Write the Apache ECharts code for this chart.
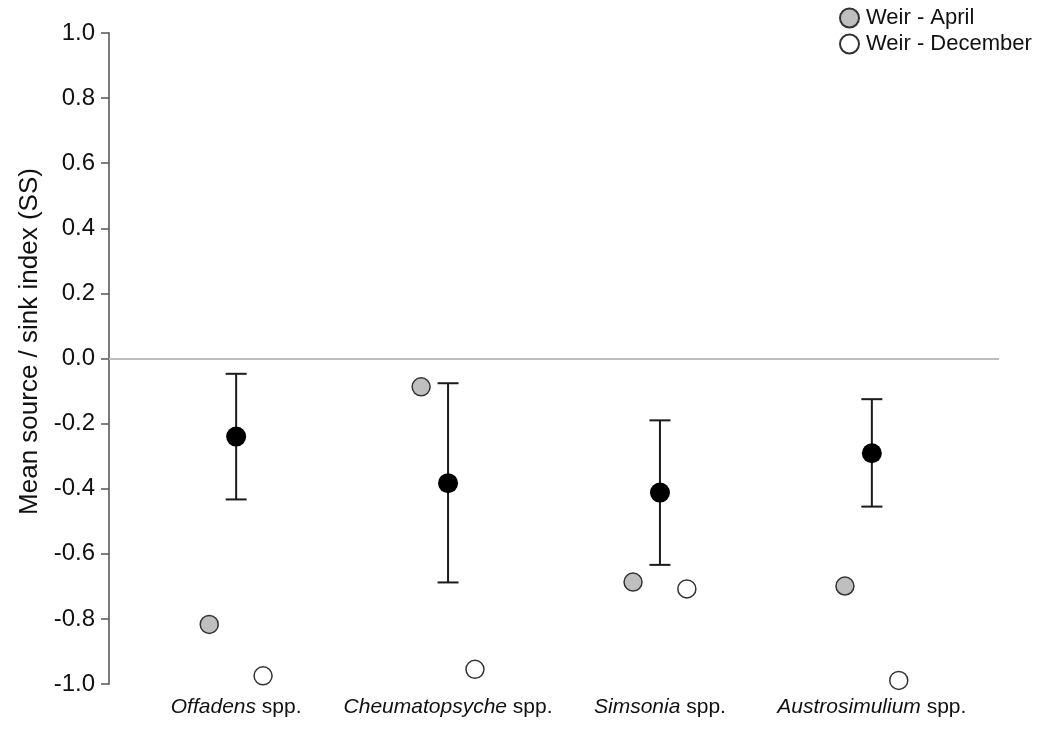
<!DOCTYPE html>
<html>
<head>
<meta charset="utf-8">
<script src="https://cdn.jsdelivr.net/npm/echarts@6/dist/echarts.min.js"></script>
<style>html,body{margin:0;padding:0;background:#fff}#c{width:1047px;height:747px}</style>
</head>
<body>
<div id="c"></div>
<script>
// ---- data ----
const genera = ['Offadens', 'Cheumatopsyche', 'Simsonia', 'Austrosimulium'];
const meanValues = [-0.240, -0.383, -0.412, -0.291];
const errUpper = [-0.047, -0.076, -0.190, -0.125];
const errLower = [-0.433, -0.688, -0.634, -0.455];
const aprilValues = [-0.817, -0.087, -0.687, -0.699];
const decemberValues = [-0.975, -0.955, -0.708, -0.989];
const aprilOffset = [-0.127, -0.127, -0.127, -0.127];
const decemberOffset = [0.127, 0.127, 0.127, 0.127];
const yTicks = [-1.0, -0.8, -0.6, -0.4, -0.2, 0.0, 0.2, 0.4, 0.6, 0.8, 1.0];

const font = 'Liberation Sans, Arial, sans-serif';
const pos = genera.map((g, i) => i + 1);

const chart = echarts.init(document.getElementById('c'), null, {renderer: 'canvas'});
const option = {
  backgroundColor: '#ffffff',
  animation: false,
  grid: {left: 109, right: 48, top: 33, bottom: 63, containLabel: false},
  legend: {
    orient: 'vertical', left: 834, top: 2, itemWidth: 19, itemHeight: 19, itemGap: 4,
    textStyle: {fontFamily: font, fontSize: 22, color: '#111', padding: [0, 0, 0, 2]},
    data: ['Weir - April', 'Weir - December']
  },
  xAxis: {
    type: 'value', min: 0.4, max: 4.6,
    axisLine: {show: false}, axisTick: {show: false}, splitLine: {show: false},
    axisLabel: {
      customValues: pos, margin: 13,
      formatter: v => '{i|' + genera[Math.round(v) - 1] + '}{n| spp.}',
      rich: {
        i: {fontFamily: font, fontSize: 21, fontStyle: 'italic', color: '#111'},
        n: {fontFamily: font, fontSize: 21, color: '#111'}
      }
    }
  },
  yAxis: {
    type: 'value', min: -1, max: 1, interval: 0.2,
    name: 'Mean source / sink index (SS)', nameLocation: 'middle', nameGap: 66,
    nameTextStyle: {fontFamily: font, fontSize: 26, color: '#111', padding: [0, 0, 0, 34]},
    axisLine: {show: true, lineStyle: {color: '#7a7a7a', width: 2}},
    axisTick: {show: true, length: 8, lineStyle: {color: '#555', width: 1.5}},
    splitLine: {show: false},
    axisLabel: {fontFamily: font, fontSize: 24, color: '#111', margin: 14,
      formatter: v => v.toFixed(1)}
  },
  series: [
    {
      name: 'zero', type: 'line', data: [], silent: true,
      markLine: {symbol: 'none', silent: true, label: {show: false},
        lineStyle: {color: '#bdbdbd', width: 2, type: 'solid'},
        data: [{yAxis: 0}]}
    },
    {
      name: 'err', type: 'custom', silent: true,
      data: pos.map((p, i) => [p, errUpper[i], errLower[i]]),
      renderItem: function (params, api) {
        const x = api.value(0);
        const top = api.coord([x, api.value(1)]);
        const bot = api.coord([x, api.value(2)]);
        const hw = 10.5;
        const st = {stroke: '#1a1a1a', lineWidth: 2};
        return {type: 'group', children: [
          {type: 'line', shape: {x1: top[0], y1: top[1], x2: bot[0], y2: bot[1]}, style: st},
          {type: 'line', shape: {x1: top[0] - hw, y1: top[1], x2: top[0] + hw, y2: top[1]}, style: st},
          {type: 'line', shape: {x1: bot[0] - hw, y1: bot[1], x2: bot[0] + hw, y2: bot[1]}, style: st}
        ]};
      },
      z: 3
    },
    {
      name: 'Mean', type: 'scatter', symbol: 'circle', symbolSize: 20,
      data: pos.map((p, i) => [p, meanValues[i]]),
      itemStyle: {color: '#000', borderWidth: 0, opacity: 1}, z: 4
    },
    {
      name: 'Weir - April', type: 'scatter', symbol: 'circle', symbolSize: 18,
      data: pos.map((p, i) => [p + aprilOffset[i], aprilValues[i]]),
      itemStyle: {color: '#bfbfbf', borderColor: '#333', borderWidth: 1.5, opacity: 1}, z: 4
    },
    {
      name: 'Weir - December', type: 'scatter', symbol: 'circle', symbolSize: 18,
      data: pos.map((p, i) => [p + decemberOffset[i], decemberValues[i]]),
      itemStyle: {color: '#ffffff', borderColor: '#333', borderWidth: 1.5, opacity: 1}, z: 4
    }
  ]
};
chart.setOption(option);
</script>
</body>
</html>
